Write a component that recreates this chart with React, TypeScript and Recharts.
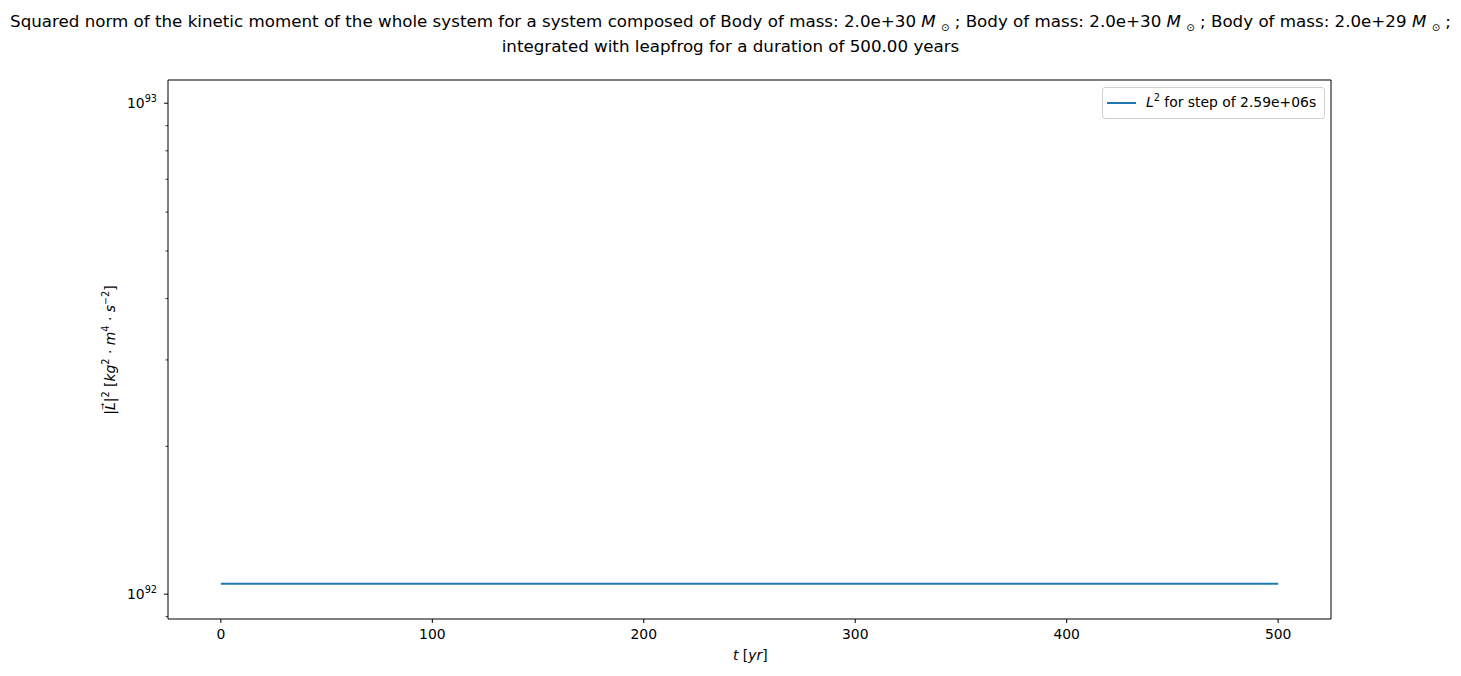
import { LineChart, Line, XAxis, YAxis, ReferenceArea } from 'recharts';

const years = [0, 100, 200, 300, 400, 500];
const l2Values = [1.05e92, 1.05e92, 1.05e92, 1.05e92, 1.05e92, 1.05e92];
const xTicks = [0, 100, 200, 300, 400, 500];
const yMajor = [1e92, 1e93];
const yMinor = [9e91, 2e92, 3e92, 4e92, 5e92, 6e92, 7e92, 8e92, 9e92];

const data = years.map((t, i) => ({ t, l2: l2Values[i] }));

const X_DOMAIN = [-25, 525];
const Y_DOMAIN = [8.9e91, 1.115e93];

const FONT = '"DejaVu Sans", sans-serif';
const TICK_FS = 13.9;

const YTick = (props: any) => {
  const { x, y, payload } = props;
  const v = payload.value;
  const major = yMajor.includes(v);
  if (!major) {
    return <line x1={x} x2={x - 2.5} y1={y} y2={y} stroke="#000" strokeWidth={0.8} />;
  }
  const exp = Math.round(Math.log10(v));
  return (
    <g>
      <line x1={x} x2={x - 4} y1={y} y2={y} stroke="#000" strokeWidth={1} />
      <text x={x - 11} y={y + 5} textAnchor="end" fontSize={TICK_FS} fontFamily={FONT} fill="#000">
        10<tspan dy={-6} fontSize={9.7}>{exp}</tspan>
      </text>
    </g>
  );
};

const XTick = (props: any) => {
  const { x, y, payload } = props;
  return (
    <g>
      <line x1={x} x2={x} y1={y} y2={y + 4} stroke="#000" strokeWidth={1} />
      <text x={x} y={y + 20} textAnchor="middle" fontSize={TICK_FS} fontFamily={FONT} fill="#000">
        {payload.value}
      </text>
    </g>
  );
};

const sun = { fontSize: 10, position: 'relative' as const, top: 4 };

const App = () => {
  return (
    <div style={{ position: 'absolute', left: 0, top: 0, width: 1461, height: 676, background: '#fff', fontFamily: FONT }}>
      <div
        style={{
          position: 'absolute',
          left: 0,
          top: 10,
          width: 1461,
          textAlign: 'center',
          fontSize: 16.7,
          lineHeight: '22px',
          color: '#000',
        }}
      >
        Squared norm of the kinetic moment of the whole system for a system composed of Body of mass: 2.0e+30{' '}
        <i>M</i> <span style={sun}>⊙</span> ; Body of mass: 2.0e+30 <i>M</i> <span style={sun}>⊙</span> ; Body of
        mass: 2.0e+29 <i>M</i> <span style={sun}>⊙</span> ;
        <br />
        integrated with leapfrog for a duration of 500.00 years
      </div>

      <LineChart width={1461} height={676} data={data} margin={{ top: 80, right: 130, bottom: 17, left: 98 }}>
        <XAxis
          dataKey="t"
          type="number"
          domain={X_DOMAIN}
          ticks={xTicks}
          interval={0}
          allowDataOverflow
          height={40}
          tickSize={0}
          tickMargin={0}
          tickLine={false}
          axisLine={false}
          tick={<XTick />}
        />
        <YAxis
          dataKey="l2"
          scale="log"
          type="number"
          domain={Y_DOMAIN}
          ticks={[...yMinor, ...yMajor].sort((a, b) => a - b)}
          interval={0}
          allowDataOverflow
          width={70}
          tickSize={0}
          tickMargin={0}
          tickLine={false}
          axisLine={false}
          tick={<YTick />}
        />
        <ReferenceArea
          x1={X_DOMAIN[0]}
          x2={X_DOMAIN[1]}
          y1={Y_DOMAIN[0]}
          y2={Y_DOMAIN[1]}
          fill="none"
          stroke="#000"
          strokeWidth={1}
        />
        <Line
          type="linear"
          dataKey="l2"
          stroke="#1f77b4"
          strokeWidth={2}
          dot={false}
          isAnimationActive={false}
        />
      </LineChart>

      <div
        style={{
          position: 'absolute',
          left: 1102,
          top: 87,
          width: 223,
          height: 32,
          border: '1px solid #d0d0d0',
          borderRadius: 3,
          background: 'rgba(255,255,255,0.8)',
          boxSizing: 'border-box',
          fontSize: TICK_FS,
          color: '#000',
        }}
      >
        <div style={{ position: 'absolute', left: 4, top: 14, width: 29, height: 2, background: '#1f77b4' }} />
        <div style={{ position: 'absolute', left: 43, top: 5, whiteSpace: 'nowrap', lineHeight: '18px' }}>
          <i>L</i>
          <span style={{ fontSize: 9.7, position: 'relative', top: -6 }}>2</span> for step of 2.59e+06s
        </div>
      </div>

      <div
        style={{
          position: 'absolute',
          left: 733,
          top: 647,
          fontSize: TICK_FS,
          color: '#000',
          whiteSpace: 'nowrap',
        }}
      >
        <i>t</i> [<i>yr</i>]
      </div>

      <div
        style={{
          position: 'absolute',
          left: 110,
          top: 350,
          transform: 'translate(-50%, -50%) rotate(-90deg)',
          fontSize: TICK_FS,
          color: '#000',
          whiteSpace: 'nowrap',
        }}
      >
        |<i>L&#8407;</i>|<span style={{ fontSize: 9.7, position: 'relative', top: -6 }}>2</span> [<i>kg</i>
        <span style={{ fontSize: 9.7, position: 'relative', top: -6 }}>2</span> · <i>m</i>
        <span style={{ fontSize: 9.7, position: 'relative', top: -6 }}>4</span> · <i>s</i>
        <span style={{ fontSize: 9.7, position: 'relative', top: -6 }}>−2</span>]
      </div>
    </div>
  );
};

export default App;
